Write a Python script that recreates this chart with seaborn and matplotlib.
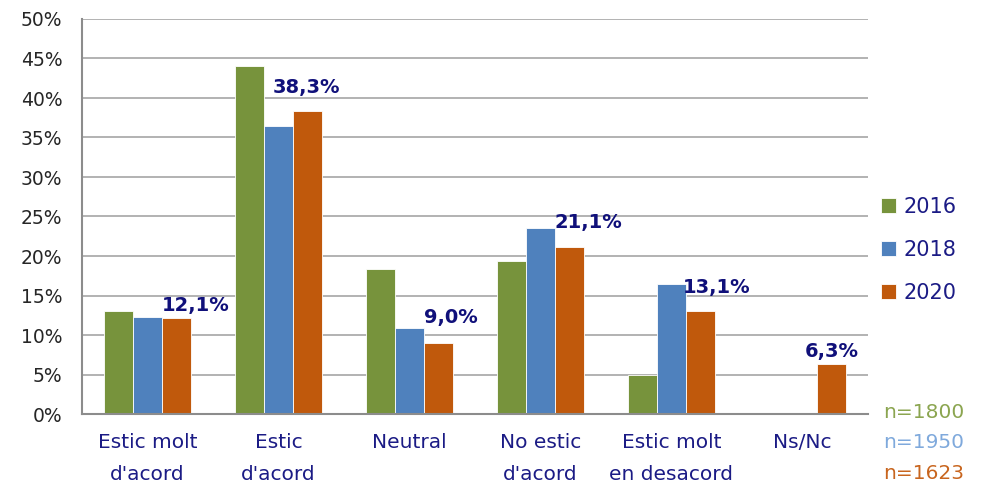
import matplotlib
matplotlib.use("Agg")
import matplotlib.pyplot as plt
import seaborn as sns
import pandas as pd
import numpy as np
from matplotlib.ticker import FuncFormatter

# dades (llegides del gràfic)
categories = ["Estic molt\nd'acord", "Estic\nd'acord", "Neutral", "No estic\nd'acord", "Estic molt\nen desacord", "Ns/Nc"]
years = ["2016", "2018", "2020"]
vals_2016 = [13.0, 44.1, 18.3, 19.4, 5.0, np.nan]
vals_2018 = [12.3, 36.5, 10.9, 23.5, 16.5, np.nan]
vals_2020 = [12.1, 38.3, 9.0, 21.1, 13.1, 6.3]
sample_labels = ["n=1800", "n=1950", "n=1623"]

colors = ["#77933C", "#4F81BD", "#C0590C"]
n_colors = ["#8BA550", "#7FA9DC", "#C8651E"]
navy = "#1B1B85"

df = pd.DataFrame({
    "cat": categories * 3,
    "year": [y for y in years for _ in categories],
    "val": vals_2016 + vals_2018 + vals_2020,
})

sns.set_style("white")
plt.rcParams['font.family'] = ['DejaVu Sans']

fig = plt.figure(figsize=(9.86, 4.86), dpi=100)
ax = fig.add_axes([82 / 986, 1 - 414 / 486, 786 / 986, 395 / 486])

sns.barplot(data=df, x="cat", y="val", hue="year", palette=colors,
            width=0.664, linewidth=0.6, edgecolor="white", ax=ax, saturation=1)

ax.set_ylim(0, 50)
ax.set_xlim(-0.5, len(categories) - 0.5)
ax.set_yticks(np.arange(0, 51, 5))
ax.yaxis.set_major_formatter(FuncFormatter(lambda v, p: f"{v:.0f}%"))
ax.yaxis.grid(True, color="#A6A6A6", linewidth=1.2)
ax.set_axisbelow(True)
for s in ["top", "right"]:
    ax.spines[s].set_visible(False)
for s in ["left", "bottom"]:
    ax.spines[s].set_color("#8C8C8C")
    ax.spines[s].set_linewidth(1.5)
ax.tick_params(axis="y", labelsize=13.5, colors="#262626", length=0, pad=14)
ax.tick_params(axis="x", labelsize=14.5, labelcolor=navy, length=0, pad=14)
for lbl in ax.get_xticklabels():
    lbl.set_linespacing(1.82)
ax.set_xlabel("")
ax.set_ylabel("")

# etiquetes de 2020 (desplaçament en píxels)
offsets = [(0, 13), (-20, 24), (0, 25), (0, 25), (-3, 23), (-12, 13)]
bars_2020 = ax.containers[2]
for bar, v, (dx, dy) in zip(bars_2020, vals_2020, offsets):
    ax.annotate(f"{v:.1f}%".replace(".", ","), (bar.get_x(), v),
                xytext=(dx, dy), textcoords="offset pixels",
                ha="left", va="center", fontsize=14, fontweight="bold", color="#10107A")

# llegenda
handles, labels = ax.get_legend_handles_labels()
ax.legend_.remove()
leg = fig.legend(handles, labels, loc="center left", bbox_to_anchor=(881 / 986, 1 - 250 / 486),
                 frameon=False, fontsize=15, handlelength=0.72, handleheight=0.72,
                 labelspacing=1.1, handletextpad=0.35, borderpad=0, borderaxespad=0)
for t in leg.get_texts():
    t.set_color(navy)

for i, (txt, c) in enumerate(zip(sample_labels, n_colors)):
    fig.text(883 / 986, 1 - (412 + i * 30.5) / 486, txt, color=c, fontsize=14.5, ha="left", va="center")

fig.savefig("out.png", dpi=100)
